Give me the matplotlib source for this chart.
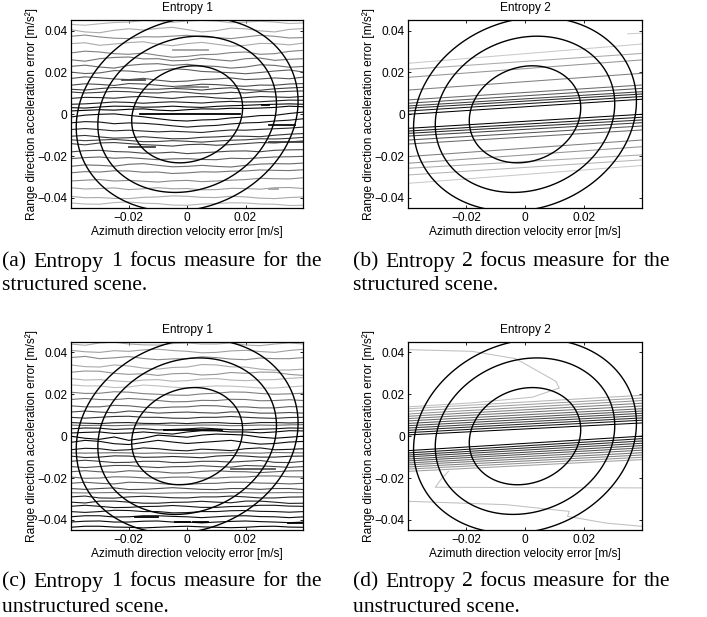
import numpy as np
import matplotlib
matplotlib.use("Agg")
import matplotlib.pyplot as plt

plt.rcParams['font.family'] = ['Liberation Sans', 'DejaVu Sans']

W, H = 707, 617

# azimuth stations for the entropy 1 contour traces [1e-3 m/s]
x_stations = [-40, -35, -30, -25, -20, -15, -10, -5, 0, 5, 10, 15, 20, 25, 30, 35, 40]

# Entropy 1, structured scene: range error [1e-3 m/s^2] along each contour
e1_struct_lines = [
    [43.0, 42.6, 43.3, 43.9, 44.1, 44.8, 44.6, 44.0, 44.6, 44.9, 44.6, 43.8, 44.1, 44.5, 44.1, 43.4, 43.7],
    [40.5, 39.4, 39.0, 40.2, 40.9, 40.3, 41.1, 41.6, 40.5, 39.4, 40.0, 41.2, 40.9, 39.9, 39.4, 40.6, 41.0],
    [37.3, 37.9, 37.0, 36.4, 36.2, 37.1, 37.0, 37.4, 37.8, 37.0, 36.7, 36.2, 37.0, 37.8, 37.3, 36.5, 36.7],
    [33.8, 34.2, 33.0, 33.6, 34.3, 34.7, 33.5, 32.8, 33.8, 34.4, 33.5, 32.6, 33.0, 33.9, 33.8, 33.2, 34.1],
    [29.3, 30.2, 29.8, 29.0, 28.7, 29.3, 28.2, 27.3, 27.7, 28.5, 28.7, 29.5, 29.8, 28.7, 29.0, 30.1, 30.6],
    [26.1, 25.4, 26.6, 27.2, 27.4, 26.5, 26.6, 25.6, 25.8, 26.8, 26.1, 25.5, 26.6, 26.9, 25.8, 26.3, 26.6],
    [22.9, 23.5, 22.6, 22.1, 23.4, 24.0, 24.2, 23.4, 23.9, 23.2, 22.9, 22.1, 22.6, 23.7, 23.4, 22.5, 22.9],
    [20.2, 19.5, 19.8, 20.9, 20.7, 20.1, 21.0, 21.8, 21.4, 20.5, 20.2, 19.9, 19.4, 20.0, 20.7, 21.2, 20.2],
    [17.1, 17.9, 17.5, 16.9, 16.6, 17.2, 16.3, 15.6, 15.9, 16.6, 16.9, 17.4, 16.6, 16.9, 17.4, 17.0, 17.8],
    [13.9, 14.6, 14.3, 13.8, 14.7, 14.5, 13.9, 13.3, 13.7, 14.4, 14.2, 13.7, 13.4, 14.0, 13.9, 14.5, 14.7],
    [12.0, 11.6, 12.3, 12.8, 12.6, 12.0, 12.0, 12.4, 12.1, 11.6, 12.3, 12.7, 11.8, 11.5, 12.2, 12.6, 12.9],
    [10.7, 10.2, 10.5, 11.0, 10.8, 10.3, 10.2, 10.8, 10.5, 9.8, 9.9, 10.5, 10.2, 10.9, 10.7, 11.0, 11.2],
    [7.6, 8.1, 8.0, 7.7, 8.3, 8.6, 8.0, 7.6, 8.3, 8.5, 7.8, 7.5, 8.0, 8.5, 8.3, 8.1, 8.6],
    [4.8, 5.0, 5.4, 5.9, 5.7, 5.3, 5.7, 6.0, 5.7, 5.4, 5.9, 6.2, 5.9, 6.0, 6.4, 6.8, 6.7],
    [3.2, 3.0, 3.5, 3.9, 3.8, 3.4, 3.5, 3.9, 3.5, 3.3, 3.8, 4.1, 4.3, 4.6, 4.8, 5.0, 4.8],
    [1.6, 1.9, 2.2, 2.0, 2.4, 2.6, 2.0, 1.7, 2.2, 2.6, 2.5, 2.9, 2.8, 3.0, 3.3, 3.9, 3.6],
    [-1.3, -0.4, 0.0, 0.2, -0.5, -1.2, -2.1, -2.9, -3.2, -2.7, -2.5, -1.7, -1.3, -0.6, -0.5, 0.4, 1.1],
    [-4.1, -3.5, -3.7, -4.5, -4.1, -4.3, -4.8, -5.5, -6.1, -5.6, -5.3, -4.6, -4.1, -3.9, -3.2, -2.8, -2.1],
    [-7.3, -6.8, -7.3, -7.9, -7.6, -8.0, -8.4, -8.1, -8.4, -8.7, -8.0, -7.5, -7.6, -7.2, -6.9, -6.6, -6.1],
    [-10.5, -10.1, -10.8, -11.4, -11.2, -10.7, -11.2, -11.7, -11.6, -11.0, -10.8, -10.4, -10.5, -10.7, -10.0, -9.5, -9.2],
    [-12.2, -12.6, -12.3, -12.0, -12.5, -13.1, -13.0, -12.6, -12.9, -13.3, -12.8, -12.4, -12.2, -11.7, -11.8, -11.5, -11.0],
    [-14.0, -14.6, -13.7, -13.5, -14.0, -14.5, -14.8, -15.2, -14.5, -14.3, -14.8, -14.5, -14.0, -13.5, -13.7, -13.2, -12.7],
    [-18.0, -17.4, -17.2, -17.8, -18.0, -18.6, -18.5, -18.1, -18.8, -18.4, -18.0, -17.6, -17.5, -17.9, -17.2, -17.0, -16.9],
    [-21.2, -20.7, -20.4, -21.0, -20.7, -21.2, -21.7, -21.3, -21.2, -21.6, -21.7, -21.0, -21.2, -20.8, -20.4, -20.3, -20.1],
    [-24.9, -24.2, -24.4, -24.8, -23.9, -23.6, -24.4, -25.1, -24.9, -24.4, -24.9, -25.2, -24.4, -23.8, -23.6, -23.7, -23.3],
    [-28.0, -27.4, -27.6, -27.0, -27.1, -27.7, -27.6, -28.3, -28.0, -27.5, -27.6, -27.2, -27.1, -26.6, -26.8, -26.9, -26.5],
    [-31.9, -31.5, -31.2, -31.9, -31.6, -32.0, -32.4, -31.8, -31.6, -32.2, -31.9, -31.5, -31.2, -30.6, -30.8, -30.9, -30.3],
    [-35.1, -35.7, -35.5, -35.2, -36.0, -35.6, -35.1, -35.6, -35.5, -36.1, -36.0, -35.4, -35.5, -35.8, -35.1, -35.0, -35.5],
    [-39.2, -39.9, -39.8, -40.2, -40.3, -39.7, -39.5, -39.0, -39.2, -39.7, -39.8, -39.2, -39.5, -40.1, -40.3, -39.8, -39.5],
    [-42.4, -42.9, -43.0, -42.2, -41.9, -42.5, -42.7, -43.4, -43.5, -42.9, -42.7, -42.3, -42.4, -42.9, -43.0, -43.6, -43.5],
]
e1_struct_levels = [0.85, 0.8, 0.65, 0.8, 0.6, 0.55, 0.5, 0.45, 0.4, 0.35,
                    0.3, 0.3, 0.2, 0.15, 0.05, 0.0, 0.05, 0.1, 0.2, 0.25,
                    0.3, 0.3, 0.35, 0.45, 0.5, 0.55, 0.65, 0.75, 0.8, 0.85]

# small closed contours (islands): x from, x to, y, level
e1_struct_isl_x0 = [-22.4, -4.1, -5.0, 27.9, -20.0, -16.0, 25.6, 27.9, 27.9]
e1_struct_isl_x1 = [-14.4, 7.3, 7.0, 40.0, -11.0, 18.2, 27.9, 37.0, 31.0]
e1_struct_isl_y = [16.3, 13.1, 30.6, -13.2, -15.6, 0.3, 4.3, -5.3, -35.5]
e1_struct_isl_lev = [0.35, 0.6, 0.75, 0.3, 0.3, 0.0, 0.0, 0.05, 0.75]

# Entropy 1, unstructured scene
e1_unstruct_lines = [
    [44.0, 43.4, 44.5, 44.9, 44.0, 43.6, 43.5, 44.2, 44.5, 44.0, 44.0, 44.5, 43.5, 43.2, 44.0, 44.5, 44.0],
    [41.0, 40.3, 40.0, 40.8, 40.5, 41.2, 41.5, 40.9, 40.5, 39.8, 40.0, 40.7, 41.0, 40.4, 40.0, 40.9, 41.5],
    [37.5, 38.1, 37.0, 37.4, 38.0, 37.1, 36.5, 36.9, 37.0, 37.9, 37.5, 36.8, 36.5, 37.3, 37.0, 37.0, 37.5],
    [34.0, 33.2, 33.0, 34.0, 33.5, 32.5, 32.0, 32.8, 33.0, 34.2, 34.0, 33.1, 33.0, 32.0, 31.5, 31.6, 32.0],
    [30.5, 31.1, 31.0, 30.0, 29.5, 29.8, 29.0, 29.8, 30.0, 29.2, 29.5, 30.4, 30.0, 30.6, 30.5, 29.5, 29.0],
    [27.5, 26.8, 27.0, 26.4, 26.0, 26.8, 27.0, 26.2, 26.5, 27.3, 27.5, 26.8, 26.5, 26.9, 27.0, 27.6, 28.0],
    [24.5, 24.0, 24.0, 23.2, 23.5, 24.4, 24.0, 23.4, 23.0, 23.6, 24.0, 23.9, 23.5, 23.0, 23.0, 23.5, 24.0],
    [21.0, 20.4, 20.5, 21.2, 21.0, 20.3, 20.0, 19.6, 19.5, 20.2, 20.5, 21.1, 21.0, 20.4, 20.0, 20.2, 20.5],
    [17.5, 18.0, 17.5, 17.4, 18.0, 17.6, 17.0, 16.4, 16.5, 17.1, 17.0, 17.6, 17.5, 16.9, 17.0, 17.4, 17.0],
    [14.5, 14.0, 14.0, 14.7, 14.5, 13.8, 13.5, 13.9, 14.0, 14.6, 14.5, 13.9, 14.0, 13.5, 13.5, 14.1, 14.0],
    [11.5, 12.0, 11.5, 11.2, 12.0, 11.6, 11.0, 11.3, 11.5, 11.2, 11.0, 11.6, 11.5, 11.0, 11.0, 11.3, 11.0],
    [9.0, 8.6, 9.0, 9.4, 9.5, 9.0, 9.0, 8.6, 8.5, 9.0, 9.0, 9.4, 9.0, 8.7, 8.5, 8.9, 9.0],
    [6.5, 6.2, 6.0, 6.4, 6.5, 6.1, 6.0, 6.3, 6.0, 6.4, 6.5, 6.1, 6.0, 6.5, 6.5, 6.3, 6.5],
    [5.3, 5.1, 5.2, 5.0, 5.2, 5.4, 5.4, 5.1, 5.2, 5.3, 5.3, 5.0, 5.1, 5.3, 5.2, 5.4, 5.5],
    [3.5, 3.9, 3.8, 3.2, 3.5, 3.6, 3.0, 3.2, 3.5, 3.9, 3.5, 3.1, 3.0, 3.3, 3.5, 3.9, 3.8],
    [1.5, 1.8, 2.0, 1.3, 1.5, 2.0, 1.5, 1.0, 2.0, 2.6, 2.5, 2.0, 2.0, 1.6, 2.0, 2.6, 2.5],
    [0.0, -1.0, -1.5, -0.4, -2.0, -1.0, 0.5, 0.0, -0.5, 0.5, 1.0, 0.8, 0.5, -0.5, -1.0, -0.5, 0.0],
    [-3.0, -2.0, -2.5, -3.6, -4.0, -3.0, -2.0, -2.8, -3.5, -3.0, -2.5, -2.0, -3.0, -3.8, -3.5, -2.8, -2.5],
    [-6.5, -5.8, -6.0, -6.8, -6.5, -5.6, -6.0, -6.7, -7.0, -6.2, -6.5, -6.9, -6.0, -5.6, -6.5, -6.3, -6.0],
    [-8.0, -8.1, -8.0, -7.9, -8.0, -8.2, -8.0, -8.2, -8.3, -8.1, -8.0, -7.9, -8.0, -8.1, -7.8, -7.9, -8.0],
    [-9.5, -10.2, -10.0, -9.4, -9.5, -10.1, -10.0, -9.7, -10.0, -10.3, -9.5, -9.2, -9.5, -10.0, -10.0, -9.6, -9.5],
    [-12.0, -11.5, -12.0, -12.6, -12.5, -12.0, -12.0, -12.6, -12.5, -12.0, -12.0, -12.4, -12.0, -11.6, -12.5, -12.6, -12.0],
    [-14.5, -15.0, -14.5, -14.0, -14.0, -14.6, -15.0, -14.6, -14.5, -14.1, -14.5, -14.8, -14.0, -14.2, -14.5, -14.9, -14.5],
    [-17.0, -16.5, -17.0, -17.2, -16.5, -16.8, -17.0, -17.6, -17.5, -16.8, -16.5, -16.9, -17.0, -17.4, -17.0, -16.6, -16.5],
    [-19.5, -20.1, -20.0, -19.4, -19.5, -19.9, -20.0, -19.6, -19.5, -20.0, -20.0, -19.6, -19.5, -19.0, -19.0, -19.4, -19.5],
    [-22.5, -22.0, -22.5, -22.8, -22.0, -22.2, -22.5, -23.1, -23.0, -22.6, -22.5, -22.0, -22.0, -22.4, -22.5, -22.8, -22.5],
    [-25.0, -25.4, -25.0, -24.7, -25.5, -25.4, -25.0, -24.6, -25.0, -25.4, -25.5, -25.0, -25.0, -25.4, -25.0, -25.0, -25.5],
    [-27.0, -27.1, -27.0, -26.9, -27.0, -27.2, -27.3, -27.1, -27.0, -27.0, -27.0, -26.9, -27.0, -27.1, -27.0, -26.9, -27.0],
    [-29.0, -28.6, -29.5, -29.6, -29.0, -28.7, -29.0, -29.4, -29.5, -29.0, -29.0, -28.6, -29.0, -29.5, -29.5, -29.1, -29.0],
    [-31.5, -31.9, -31.0, -31.0, -31.5, -32.0, -32.0, -31.6, -31.5, -31.1, -31.5, -31.8, -31.0, -31.0, -31.5, -32.1, -32.0],
    [-33.5, -33.0, -33.5, -34.1, -34.0, -33.6, -33.5, -33.1, -33.5, -34.0, -34.0, -33.6, -33.5, -33.0, -33.0, -33.4, -33.5],
    [-36.0, -36.4, -36.0, -35.4, -35.5, -36.0, -36.0, -36.6, -36.5, -36.0, -36.0, -35.6, -35.5, -35.9, -36.0, -36.3, -36.0],
    [-38.5, -38.0, -38.0, -38.6, -38.5, -38.0, -38.0, -38.3, -38.5, -38.9, -38.5, -38.1, -38.0, -38.4, -38.5, -38.9, -38.5],
    [-41.0, -40.6, -40.5, -41.0, -41.0, -40.6, -40.5, -41.0, -41.0, -41.4, -41.0, -40.7, -40.5, -40.8, -41.0, -41.3, -41.0],
    [-43.5, -43.0, -43.0, -43.4, -43.5, -43.8, -43.5, -43.2, -43.0, -43.3, -43.5, -43.7, -43.5, -43.1, -43.0, -43.4, -43.5],
]
e1_unstruct_levels = [0.8, 0.75, 0.65, 0.8, 0.7, 0.85, 0.9, 0.6, 0.55, 0.45,
                      0.35, 0.25, 0.15, 0.5, 0.1, 0.05, 0.0, 0.05, 0.1, 0.5,
                      0.2, 0.3, 0.35, 0.45, 0.5, 0.45, 0.35, 0.55, 0.2, 0.15,
                      0.1, 0.1, 0.05, 0.05, 0.0]

e1_unstruct_isl_x0 = [-4.0, 2.0, 34.5, -18.0, -8.0, 15.0]
e1_unstruct_isl_x1 = [1.0, 7.0, 40.0, -10.0, 12.0, 30.0]
e1_unstruct_isl_y = [-41.0, -41.0, -41.5, -38.5, 2.8, -15.5]
e1_unstruct_isl_lev = [0.0, 0.0, 0.0, 0.0, 0.0, 0.4]

# Entropy 2 contours are straight: range error at left / right plot edge
e2_struct_left = [24.4, 21.5, 17.7, 11.6, 6.9, 5.3, 4.0, 2.9, 1.6, 0.0,
                  -6.7, -8.0, -9.1, -10.4, -12.3, -14.2, -20.2, -23.4, -25.8, -29.0, -33.0]
e2_struct_right = [33.6, 29.1, 26.0, 19.6, 14.0, 12.4, 10.8, 9.7, 8.5, 7.2,
                   0.0, -1.4, -2.7, -4.0, -5.6, -7.5, -12.3, -15.5, -19.4, -21.8, -24.5]
e2_struct_levels = [0.95, 0.8, 0.7, 0.6, 0.5, 0.4, 0.3, 0.2, 0.1, 0.0,
                    0.0, 0.1, 0.2, 0.3, 0.4, 0.5, 0.6, 0.7, 0.8, 0.85, 0.95]

e2_unstruct_left = [13.1, 11.9, 10.6, 9.5, 8.4, 7.3, 6.1, 5.0, 3.9, 2.8, 1.7, 0.6,
                    -6.9, -8.0, -9.0, -9.9, -10.9, -11.8, -12.8, -13.7, -14.7, -15.7, -16.8]
e2_unstruct_right = [19.5, 18.2, 17.0, 15.7, 14.4, 13.1, 12.0, 10.9, 9.8, 8.7, 7.6, 6.3,
                     0.0, -1.2, -2.3, -3.4, -4.5, -5.6, -6.7, -7.9, -9.0, -10.1, -11.2]
e2_unstruct_levels = [0.85, 0.75, 0.7, 0.6, 0.55, 0.5, 0.4, 0.35, 0.3, 0.2, 0.1, 0.0,
                      0.0, 0.1, 0.2, 0.3, 0.35, 0.4, 0.5, 0.55, 0.6, 0.7, 0.75]

# far-field Entropy 2 contours of the unstructured scene (x, y in 1e-3 units)
e2_unstruct_far_x = [
    [-39.8, -18.1, -3.2, -1.5, 10.5, 11.7, 2.5, -18.1, -39.8],
    [-39.8, -6.6, 15.1, 14.5, 27.7, 40.2],
    [40.2, -30.6, -28.3, -26.1],
]
e2_unstruct_far_y = [
    [41.3, 40.5, 37.0, 35.7, 26.2, 23.0, 18.6, 15.9, 14.0],
    [-31.1, -32.7, -35.9, -38.3, -41.5, -43.1],
    [-24.7, -24.4, -20.0, -16.8],
]
e2_unstruct_far_lev = [0.9, 0.9, 0.9]

# focus-measure ellipses from the quadratic error model
quad_a, quad_b, quad_c = 1.49, -0.164, 1.0
ellipse_xext = [0.0190, 0.0306, 0.0380]

x_lim = (-0.0398, 0.0398)
y_lim = (-0.0448, 0.0451)

LEV_NORM = plt.Normalize(0.0, 1.2)


def gray(lev):
    return plt.cm.gray(LEV_NORM(lev))


def add_axes_px(fig, left, top, right, bottom):
    return fig.add_axes([left / W, 1 - bottom / H, (right - left) / W, (bottom - top) / H])


def style_axes(ax, title):
    ax.set_xlim(*x_lim)
    ax.set_ylim(*y_lim)
    ax.set_xticks([-0.02, 0, 0.02])
    ax.set_xticklabels(['\u22120.02', '0', '0.02'])
    ax.set_yticks([-0.04, -0.02, 0, 0.02, 0.04])
    ax.set_yticklabels(['\u22120.04', '\u22120.02', '0', '0.02', '0.04'])
    ax.tick_params(direction='in', length=2.5, width=0.6, top=True, right=True,
                   labelsize=8.6, pad=2.5)
    ax.tick_params(axis='x', pad=3.0)
    for sp in ax.spines.values():
        sp.set_linewidth(0.9)
    ax.set_title(title, fontsize=8.6, pad=6.5)
    ax.set_xlabel('Azimuth direction velocity error [m/s]', fontsize=8.6)
    ax.set_ylabel('Range direction acceleration error [m/s\u00b2]', fontsize=8.6)
    ax.xaxis.set_label_coords(0.5, -0.097)
    ax.yaxis.set_label_coords(-0.142, 0.5)


def draw_ellipses(ax):
    g = np.linspace(-0.05, 0.05, 501)
    X, Y = np.meshgrid(g, g)
    Q = quad_a * X ** 2 + 2 * quad_b * X * Y + quad_c * Y ** 2
    det = quad_a * quad_c - quad_b ** 2
    levels = [e ** 2 * det / quad_c for e in ellipse_xext]
    ax.contour(X, Y, Q, levels=levels, colors='k', linewidths=1.0)


def draw_entropy1(ax, lines, levels, isl_x0, isl_x1, isl_y, isl_lev):
    xs = np.array(x_stations) * 1e-3
    for ys, lev in zip(lines, levels):
        ax.plot(xs, np.array(ys) * 1e-3, color=gray(lev), lw=0.8)
    for x0, x1, y, lev in zip(isl_x0, isl_x1, isl_y, isl_lev):
        ax.plot([x0 * 1e-3, x1 * 1e-3], [y * 1e-3, y * 1e-3], color=gray(lev), lw=1.3)


def draw_entropy2(ax, left, right, levels):
    for yl, yr, lev in zip(left, right, levels):
        ax.plot(x_lim, [yl * 1e-3, yr * 1e-3], color=gray(lev), lw=0.75)


def justified_caption(fig, line1, line2, x0, x1, y1, y2, size=15.6):
    renderer = fig.canvas.get_renderer()
    words = line1.split()
    texts = [fig.text(0, 1 - y1 / H, w, fontsize=size, family='Liberation Serif',
                      va='baseline', ha='left') for w in words]
    widths = [t.get_window_extent(renderer).width for t in texts]
    gap = (x1 - x0 - sum(widths)) / (len(words) - 1)
    x = x0
    for t, w in zip(texts, widths):
        t.set_x(x / W)
        x += w + gap
    fig.text(x0 / W, 1 - y2 / H, line2, fontsize=size, family='Liberation Serif',
             va='baseline', ha='left')


fig = plt.figure(figsize=(W / 100, H / 100), dpi=100)

ax_a = add_axes_px(fig, 71, 20, 303.3, 208)
ax_b = add_axes_px(fig, 408.3, 20, 641.7, 208)
ax_c = add_axes_px(fig, 71, 341.7, 303.3, 530)
ax_d = add_axes_px(fig, 408.3, 341.7, 641.7, 530)

draw_entropy1(ax_a, e1_struct_lines, e1_struct_levels, e1_struct_isl_x0,
              e1_struct_isl_x1, e1_struct_isl_y, e1_struct_isl_lev)
draw_entropy2(ax_b, e2_struct_left, e2_struct_right, e2_struct_levels)
ax_b.plot([0.035, 0.0398], [0.0385, 0.0388], color=gray(0.95), lw=0.7)
draw_entropy1(ax_c, e1_unstruct_lines, e1_unstruct_levels, e1_unstruct_isl_x0,
              e1_unstruct_isl_x1, e1_unstruct_isl_y, e1_unstruct_isl_lev)
draw_entropy2(ax_d, e2_unstruct_left, e2_unstruct_right, e2_unstruct_levels)
for xs, ys, lev in zip(e2_unstruct_far_x, e2_unstruct_far_y, e2_unstruct_far_lev):
    ax_d.plot(np.array(xs) * 1e-3, np.array(ys) * 1e-3, color=gray(lev), lw=0.75)

for ax, title in [(ax_a, 'Entropy 1'), (ax_b, 'Entropy 2'),
                  (ax_c, 'Entropy 1'), (ax_d, 'Entropy 2')]:
    draw_ellipses(ax)
    style_axes(ax, title)

justified_caption(fig, '(a) Entropy 1 focus measure for the', 'structured scene.',
                  2, 322, 266.5, 290.5)
justified_caption(fig, '(b) Entropy 2 focus measure for the', 'structured scene.',
                  353, 670, 266.5, 290.5)
justified_caption(fig, '(c) Entropy 1 focus measure for the', 'unstructured scene.',
                  2, 322, 586.5, 611.5)
justified_caption(fig, '(d) Entropy 2 focus measure for the', 'unstructured scene.',
                  353, 670, 586.5, 611.5)

fig.savefig('out.png', dpi=100)
